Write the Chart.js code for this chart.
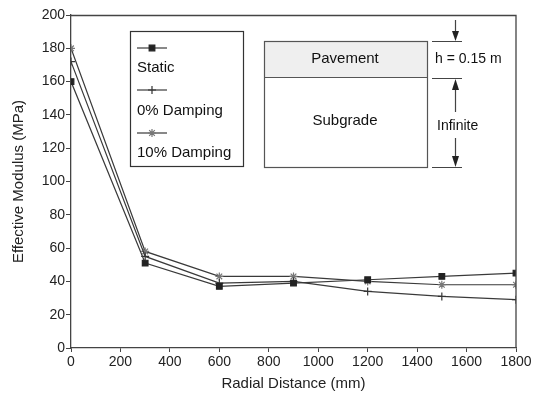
<!DOCTYPE html>
<html>
<head>
<meta charset="utf-8">
<script src="https://cdn.jsdelivr.net/npm/chart.js@4"></script>
<style>
html,body{margin:0;padding:0;background:#fff;}
#wrap{position:relative;width:535px;height:393px;}
</style>
</head>
<body>
<div id="wrap"><canvas id="c" width="535" height="393"></canvas></div>
<script>
const radialDistance = [0, 300, 600, 900, 1200, 1500, 1800];
const staticModulus = [160, 51, 37, 39, 41, 43, 45];
const damping0Modulus = [172, 55, 39, 40, 34, 31, 29];
const damping10Modulus = [180, 58, 43, 43, 40, 38, 38];
const seriesNames = ['Static', '0% Damping', '10% Damping'];
const xTicks = [0, 200, 400, 600, 800, 1000, 1200, 1400, 1600, 1800];
const yTicks = [0, 20, 40, 60, 80, 100, 120, 140, 160, 180, 200];

const FONT = '"Liberation Sans", Arial, Helvetica, sans-serif';
const lineColor = '#3a3a3a';

function pts(ys){ return radialDistance.map((x,i)=>({x:x,y:ys[i]})); }

const styles = [
  {pointStyle:'rect', radius:4, bg:'#222', border:'#222'},
  {pointStyle:'cross', radius:4, bg:'#333', border:'#333'},
  {pointStyle:'star', radius:4, bg:'#777', border:'#777'}
];

const datasets = [staticModulus, damping0Modulus, damping10Modulus].map((d,i)=>({
  label: seriesNames[i],
  data: pts(d),
  borderColor: lineColor,
  borderWidth: 1.2,
  pointStyle: styles[i].pointStyle,
  pointRadius: styles[i].radius,
  pointBackgroundColor: styles[i].bg,
  pointBorderColor: styles[i].border,
  pointBorderWidth: 1.2,
  tension: 0,
  fill: false
}));

const overlay = {
  id: 'overlay',
  afterDraw(chart){
    const ctx = chart.ctx;
    const ca = chart.chartArea;
    ctx.save();
    // frame top & right
    ctx.strokeStyle = '#444';
    ctx.lineWidth = 1.3;
    ctx.beginPath();
    ctx.moveTo(ca.left, ca.top + 0.5);
    ctx.lineTo(ca.right, ca.top + 0.5);
    ctx.lineTo(ca.right, ca.bottom);
    ctx.stroke();

    // legend box
    ctx.lineWidth = 1.2;
    ctx.strokeStyle = '#333';
    ctx.fillStyle = '#fff';
    ctx.fillRect(130, 31, 113, 135);
    ctx.strokeRect(130.5, 31.5, 113, 135);
    const rowsY = [48, 90, 133];
    const textY = [68, 111, 153];
    ctx.font = '15px ' + FONT;
    ctx.textBaseline = 'middle';
    ctx.textAlign = 'left';
    chart.data.datasets.forEach((ds,i)=>{
      ctx.strokeStyle = lineColor;
      ctx.lineWidth = 1.2;
      ctx.beginPath();
      ctx.moveTo(137, rowsY[i]);
      ctx.lineTo(167, rowsY[i]);
      ctx.stroke();
      ctx.fillStyle = ds.pointBackgroundColor;
      ctx.strokeStyle = ds.pointBorderColor;
      Chart.helpers.drawPoint(ctx, {
        pointStyle: ds.pointStyle, radius: ds.pointRadius, borderWidth: 1.2, rotation: 0
      }, 152, rowsY[i]);
      ctx.fillStyle = '#111';
      ctx.fillText(ds.label, 137, textY[i]);
    });

    // diagram
    ctx.fillStyle = '#efefef';
    ctx.fillRect(264, 41, 163, 36);
    ctx.strokeStyle = '#555';
    ctx.lineWidth = 1.2;
    ctx.strokeRect(264.5, 41.5, 163, 126);
    ctx.beginPath();
    ctx.moveTo(264, 77.5); ctx.lineTo(427, 77.5);
    ctx.stroke();
    ctx.fillStyle = '#111';
    ctx.textAlign = 'center';
    ctx.font = '15px ' + FONT;
    ctx.fillText('Pavement', 345, 59);
    ctx.fillText('Subgrade', 345, 121);

    // dimension lines
    ctx.strokeStyle = '#444';
    ctx.beginPath();
    ctx.moveTo(432, 41.5); ctx.lineTo(462, 41.5);
    ctx.moveTo(432, 78.5); ctx.lineTo(462, 78.5);
    ctx.moveTo(432, 167.5); ctx.lineTo(462, 167.5);
    ctx.stroke();
    const ax = 455.5;
    ctx.beginPath(); ctx.moveTo(ax, 20); ctx.lineTo(ax, 35); ctx.stroke();
    ctx.fillStyle = '#222';
    ctx.beginPath(); ctx.moveTo(ax-3.5, 31); ctx.lineTo(ax+3.5, 31); ctx.lineTo(ax, 41); ctx.closePath(); ctx.fill();
    ctx.beginPath(); ctx.moveTo(ax, 86); ctx.lineTo(ax, 112); ctx.stroke();
    ctx.beginPath(); ctx.moveTo(ax-3.5, 90); ctx.lineTo(ax+3.5, 90); ctx.lineTo(ax, 79); ctx.closePath(); ctx.fill();
    ctx.beginPath(); ctx.moveTo(ax, 138); ctx.lineTo(ax, 158); ctx.stroke();
    ctx.beginPath(); ctx.moveTo(ax-3.5, 156); ctx.lineTo(ax+3.5, 156); ctx.lineTo(ax, 167); ctx.closePath(); ctx.fill();

    ctx.fillStyle = '#111';
    ctx.textAlign = 'left';
    ctx.font = '14px ' + FONT;
    ctx.fillText('h = 0.15 m', 435, 59);
    ctx.fillText('Infinite', 437, 126);
    ctx.restore();
  }
};

new Chart(document.getElementById('c'), {
  type: 'line',
  data: { datasets: datasets },
  options: {
    responsive: false,
    animation: false,
    devicePixelRatio: 1,
    layout: { padding: { left: 0, right: 19, top: 15, bottom: 0 } },
    plugins: { legend: { display: false }, tooltip: { enabled: false } },
    scales: {
      x: {
        type: 'linear',
        min: 0, max: 1800,
        afterBuildTicks(axis){ axis.ticks = xTicks.map(v=>({value:v})); },
        afterFit(axis){ axis.height = 45; },
        border: { color: '#444', width: 1.3 },
        grid: { drawOnChartArea: false, tickLength: 4, color: '#444' },
        ticks: { color: '#222', font: { family: FONT, size: 14 }, padding: 2, maxRotation: 0, callback: v => String(v) },
        title: { display: true, text: 'Radial Distance (mm)', color: '#222', font: { family: FONT, size: 15 }, padding: { top: 2, bottom: 0 } }
      },
      y: {
        min: 0, max: 200,
        afterBuildTicks(axis){ axis.ticks = yTicks.map(v=>({value:v})); },
        afterFit(axis){ axis.width = 71; },
        border: { color: '#444', width: 1.3 },
        grid: { drawOnChartArea: false, tickLength: 5, color: '#444' },
        ticks: { color: '#222', font: { family: FONT, size: 14 }, padding: 1, callback: v => String(v) },
        title: { display: true, text: 'Effective Modulus (MPa)', color: '#222', font: { family: FONT, size: 15 }, padding: { top: 10, bottom: 0 } }
      }
    }
  },
  plugins: [overlay]
});
</script>
</body>
</html>
